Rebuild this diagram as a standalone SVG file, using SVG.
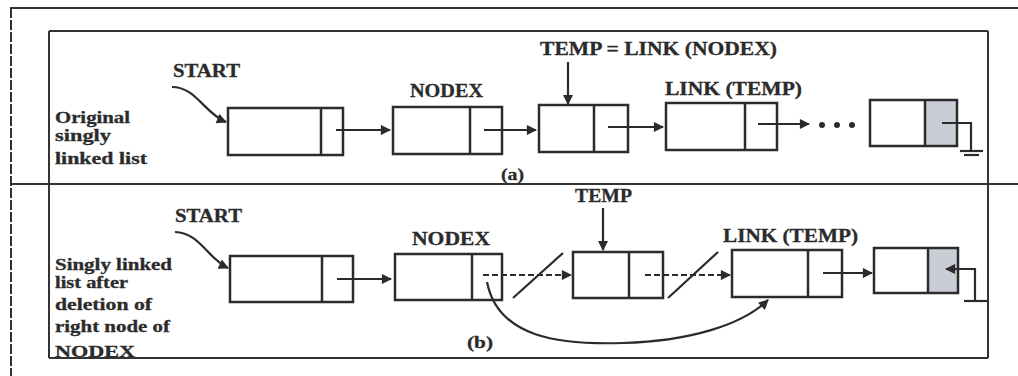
<svg xmlns="http://www.w3.org/2000/svg" width="1018" height="376" viewBox="0 0 1018 376">
<style>
.frame{fill:none;stroke:#333;stroke-width:2}
.cell{fill:none;stroke:#2b2b2b;stroke-width:2.5}
.shade{fill:#c9cdd6}
.conn{fill:none;stroke:#2b2b2b;stroke-width:2.2}
.dash{fill:none;stroke:#2b2b2b;stroke-width:2.2;stroke-dasharray:6 3}
.lbl{font-family:"Liberation Serif","DejaVu Serif",serif;font-weight:bold;fill:#2b2b2b;stroke:#2b2b2b;stroke-width:0.3}
.big{font-size:18px}
.side{font-size:17px}
</style>
<defs>
<marker id="ah" viewBox="0 0 10 10" refX="9" refY="5" markerWidth="5" markerHeight="4.6" orient="auto" markerUnits="strokeWidth">
<path d="M0,0 L10,5 L0,10 z" fill="#2b2b2b"/>
</marker>
</defs>
<rect width="1018" height="376" fill="#fff"/>
<g id="frame">
<line class="frame" x1="10" y1="8" x2="1018" y2="8" stroke-width="2.5"/>
<line class="frame" x1="11" y1="8" x2="11" y2="376" stroke-dasharray="10 2"/>
<line class="frame" x1="49" y1="31" x2="988" y2="31" stroke-width="2.5"/>
<line class="frame" x1="49" y1="31" x2="49" y2="358"/>
<line class="frame" x1="988" y1="31" x2="988" y2="358"/>
<line class="frame" x1="11" y1="184" x2="1018" y2="184" stroke-width="2.2"/>
<line class="frame" x1="49" y1="358" x2="988" y2="358"/>
</g>
<g id="labels-a">
<text class="lbl side" x="55" y="123" textLength="75" lengthAdjust="spacingAndGlyphs">Original</text>
<text class="lbl side" x="55" y="141" textLength="56" lengthAdjust="spacingAndGlyphs">singly</text>
<text class="lbl side" x="55" y="164" textLength="92" lengthAdjust="spacingAndGlyphs">linked list</text>
<text class="lbl big" x="173" y="77" textLength="67" lengthAdjust="spacingAndGlyphs">START</text>
<text class="lbl big" x="410" y="97" textLength="73" lengthAdjust="spacingAndGlyphs">NODEX</text>
<text class="lbl big" x="540" y="55" textLength="237" lengthAdjust="spacingAndGlyphs">TEMP = LINK (NODEX)</text>
<text class="lbl big" x="665" y="95" textLength="137" lengthAdjust="spacingAndGlyphs">LINK (TEMP)</text>
<text class="lbl side" x="501" y="180" textLength="23" lengthAdjust="spacingAndGlyphs">(a)</text>
</g>
<g id="labels-b">
<text class="lbl side" x="55" y="270" textLength="117" lengthAdjust="spacingAndGlyphs">Singly linked</text>
<text class="lbl side" x="55" y="288" textLength="73" lengthAdjust="spacingAndGlyphs">list after</text>
<text class="lbl side" x="55" y="310" textLength="97" lengthAdjust="spacingAndGlyphs">deletion of</text>
<text class="lbl side" x="55" y="332" textLength="115" lengthAdjust="spacingAndGlyphs">right node of</text>
<text class="lbl side" x="55" y="357" textLength="80" lengthAdjust="spacingAndGlyphs">NODEX</text>
<text class="lbl big" x="175" y="222" textLength="67" lengthAdjust="spacingAndGlyphs">START</text>
<text class="lbl big" x="412" y="245" textLength="78" lengthAdjust="spacingAndGlyphs">NODEX</text>
<text class="lbl big" x="575" y="202" textLength="57" lengthAdjust="spacingAndGlyphs">TEMP</text>
<text class="lbl big" x="723" y="242" textLength="135" lengthAdjust="spacingAndGlyphs">LINK (TEMP)</text>
<text class="lbl side" x="467" y="348" textLength="26" lengthAdjust="spacingAndGlyphs">(b)</text>
</g>
<g id="a-node1"><rect class="cell" x="228" y="108" width="115" height="47"/><line class="cell" x1="321" y1="108" x2="321" y2="155"/></g>
<g id="a-node2"><rect class="cell" x="393" y="107" width="109" height="47"/><line class="cell" x1="470" y1="107" x2="470" y2="154"/></g>
<g id="a-node3"><rect class="cell" x="539" y="105" width="89" height="47"/><line class="cell" x1="594" y1="105" x2="594" y2="152"/></g>
<g id="a-node4"><rect class="cell" x="666" y="103" width="111" height="47"/><line class="cell" x1="745" y1="103" x2="745" y2="150"/></g>
<g id="a-node5"><rect class="shade" x="925" y="100" width="32" height="46"/><rect class="cell" x="870" y="100" width="87" height="46"/><line class="cell" x1="925" y1="100" x2="925" y2="146"/></g>
<g id="b-node1"><rect class="cell" x="230" y="256" width="123" height="46"/><line class="cell" x1="322" y1="256" x2="322" y2="302"/></g>
<g id="b-node2"><rect class="cell" x="395" y="254" width="107" height="46"/><line class="cell" x1="472" y1="254" x2="472" y2="300"/></g>
<g id="b-node3"><rect class="cell" x="573" y="252" width="90" height="46"/><line class="cell" x1="629" y1="252" x2="629" y2="298"/></g>
<g id="b-node4"><rect class="cell" x="732" y="250" width="110" height="47"/><line class="cell" x1="808" y1="250" x2="808" y2="297"/></g>
<g id="b-node5"><rect class="shade" x="928" y="248" width="30" height="45"/><rect class="cell" x="874" y="248" width="84" height="45"/><line class="cell" x1="928" y1="248" x2="928" y2="293"/></g>
<g id="connectors">
<path class="conn" d="M172,87 C196,87 204,113 226,122" marker-end="url(#ah)"/>
<line class="conn" x1="336" y1="130" x2="390" y2="130" marker-end="url(#ah)"/>
<line class="conn" x1="484" y1="130" x2="536" y2="130" marker-end="url(#ah)"/>
<line class="conn" x1="568" y1="62" x2="568" y2="104" marker-end="url(#ah)"/>
<line class="conn" x1="608" y1="127" x2="663" y2="127" marker-end="url(#ah)"/>
<line class="conn" x1="758" y1="124" x2="809" y2="124" marker-end="url(#ah)"/>
<circle cx="822" cy="125" r="3" fill="#2b2b2b"/>
<circle cx="837" cy="125" r="3" fill="#2b2b2b"/>
<circle cx="852" cy="125" r="3" fill="#2b2b2b"/>
<polyline class="conn" points="942,123 971,123 971,150"/>
<line class="conn" x1="960" y1="151" x2="983" y2="151" stroke-width="2.5"/>
<line class="conn" x1="964" y1="155" x2="979" y2="155" stroke-width="1.5"/>
<path class="conn" d="M175,232 C200,233 207,258 228,268" marker-end="url(#ah)"/>
<line class="conn" x1="337" y1="279" x2="391" y2="279" marker-end="url(#ah)"/>
<line class="dash" x1="483" y1="275" x2="571" y2="275" marker-end="url(#ah)"/>
<line class="conn" x1="513" y1="298" x2="563" y2="253"/>
<line class="conn" x1="603" y1="208" x2="603" y2="250" marker-end="url(#ah)"/>
<line class="dash" x1="645" y1="275" x2="730" y2="275" marker-end="url(#ah)"/>
<line class="conn" x1="668" y1="298" x2="718" y2="252"/>
<line class="conn" x1="823" y1="273" x2="872" y2="273" marker-end="url(#ah)"/>
<path class="conn" d="M487,282 C498,338 560,345 623,343 C690,341 742,325 768,300" marker-end="url(#ah)"/>
<polyline class="conn" points="975,302 975,269 946,269" marker-end="url(#ah)"/>
<line class="conn" x1="964" y1="301" x2="987" y2="301" stroke-width="3.5"/>
</g>
</svg>
